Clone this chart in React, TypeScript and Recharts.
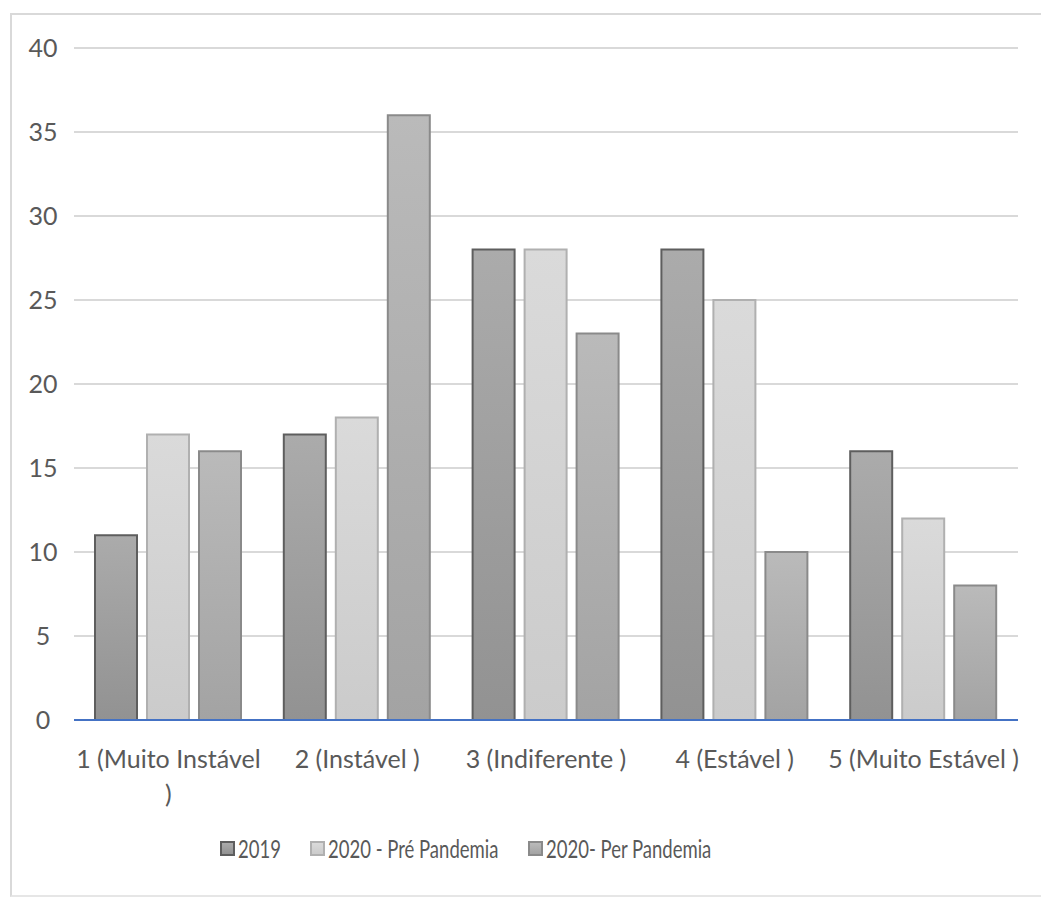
import { BarChart, Bar, XAxis, YAxis, CartesianGrid } from 'recharts';

const categories = ['1 (Muito Instável )', '2 (Instável )', '3 (Indiferente )', '4 (Estável )', '5 (Muito Estável )'];
const values2019 = [11, 17, 28, 28, 16];
const valuesPre = [17, 18, 28, 25, 12];
const valuesPer = [16, 36, 23, 10, 8];
const yTicks = [0, 5, 10, 15, 20, 25, 30, 35, 40];

const series = [
  { key: 'y2019', name: '2019', top: '#ababab', bottom: '#929292', stroke: '#5e5e5e' },
  { key: 'pre', name: '2020 - Pré Pandemia', top: '#dadada', bottom: '#cbcbcb', stroke: '#b0b0b0' },
  { key: 'per', name: '2020- Per Pandemia', top: '#bababa', bottom: '#a3a3a3', stroke: '#8a8a8a' },
];

const data = categories.map((name, i) => ({
  name,
  y2019: values2019[i],
  pre: valuesPre[i],
  per: valuesPer[i],
}));

const FONT = 'Lato, sans-serif';
const TEXT_COLOR = '#595959';
const LABEL_SIZE = 25;

let ctx: CanvasRenderingContext2D | null = null;
const measure = (s: string) => {
  if (!ctx) ctx = document.createElement('canvas').getContext('2d');
  if (!ctx) return s.length * 10;
  ctx.font = `${LABEL_SIZE}px Lato`;
  return ctx.measureText(s).width;
};

// wrap like Excel: move trailing words down when the label is wider than the band
const wrapLabel = (s: string, max: number) => {
  const words = s.split(' ');
  const lines: string[] = [];
  let cur = '';
  words.forEach((w) => {
    const next = cur ? `${cur} ${w}` : w;
    if (cur && measure(next) > max) {
      lines.push(cur);
      cur = w;
    } else {
      cur = next;
    }
  });
  if (cur) lines.push(cur);
  return lines;
};

const XTick = ({ x, y, payload }: any) => {
  const lines = wrapLabel(payload.value, 193);
  return (
    <text
      x={x}
      y={y + 40}
      textAnchor="middle"
      style={{ fontFamily: FONT, fontSize: LABEL_SIZE, fill: TEXT_COLOR }}
    >
      {lines.map((l, i) => (
        <tspan key={i} x={x} dy={i === 0 ? 0 : 35}>
          {l}
        </tspan>
      ))}
    </text>
  );
};

const YTick = ({ y, payload }: any) => (
  <text
    x={43}
    y={y}
    dy={9}
    textAnchor="middle"
    style={{ fontFamily: FONT, fontSize: LABEL_SIZE, fill: TEXT_COLOR }}
  >
    {payload.value}
  </text>
);

const legendLeft = [220, 310, 528];

export default function App() {
  return (
    <div style={{ position: 'relative', width: 1041, height: 898, overflow: 'hidden', background: '#fff' }}>
      <style>{`body{margin:0;overflow:hidden}`}</style>
      <div
        style={{
          position: 'absolute',
          left: 10,
          top: 13,
          width: 1100,
          height: 880,
          borderLeft: '2px solid #d9d9d9',
          borderTop: '2px solid #d9d9d9',
          borderBottom: '2px solid #e6e6e6',
        }}
      />
      <div style={{ position: 'absolute', left: 0, top: 0 }}>
        <BarChart
          width={1041}
          height={898}
          data={data}
          margin={{ top: 48, right: 23, bottom: 88, left: 10 }}
          barCategoryGap={21}
          barGap={10}
        >
          <defs>
            {series.map((s) => (
              <linearGradient key={s.key} id={`grad-${s.key}`} x1="0" y1="0" x2="0" y2="1">
                <stop offset="0%" stopColor={s.top} />
                <stop offset="100%" stopColor={s.bottom} />
              </linearGradient>
            ))}
          </defs>
          <CartesianGrid vertical={false} stroke="#d9d9d9" strokeWidth={2} />
          <XAxis
            dataKey="name"
            height={90}
            axisLine={{ stroke: '#4472c4', strokeWidth: 2 }}
            tickLine={false}
            tick={<XTick />}
            interval={0}
          />
          <YAxis
            width={64}
            domain={[0, 40]}
            ticks={yTicks}
            axisLine={false}
            tickLine={false}
            tick={<YTick />}
          />
          {series.map((s) => (
            <Bar
              key={s.key}
              dataKey={s.key}
              name={s.name}
              fill={`url(#grad-${s.key})`}
              stroke={s.stroke}
              strokeWidth={2}
              isAnimationActive={false}
            />
          ))}
        </BarChart>
      </div>
      {series.map((s, i) => (
        <div
          key={s.key}
          style={{
            position: 'absolute',
            left: legendLeft[i],
            top: 833,
            height: 30,
            display: 'flex',
            alignItems: 'center',
            fontFamily: FONT,
            fontSize: LABEL_SIZE,
            color: TEXT_COLOR,
            whiteSpace: 'nowrap',
          }}
        >
          <span
            style={{
              display: 'inline-block',
              width: 11,
              height: 11,
              background: `linear-gradient(${s.top}, ${s.bottom})`,
              border: `2px solid ${s.stroke}`,
              marginRight: 3,
            }}
          />
          <span style={{ display: 'inline-block', transform: 'scaleX(0.74)', transformOrigin: 'left center' }}>
            {s.name}
          </span>
        </div>
      ))}
    </div>
  );
}
